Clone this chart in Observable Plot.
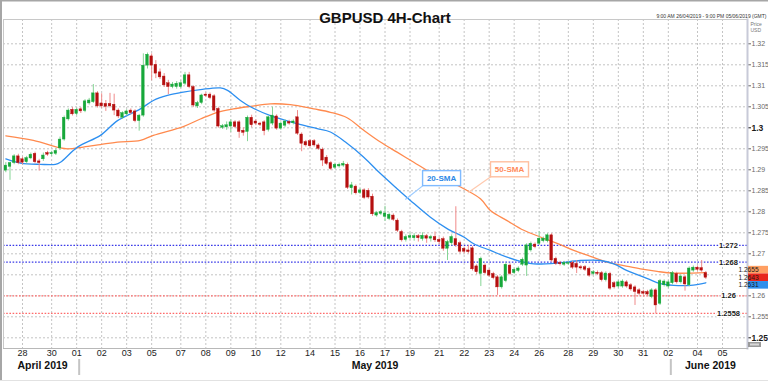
<!DOCTYPE html>
<html><head><meta charset="utf-8">
<script src="https://cdn.jsdelivr.net/npm/d3@7"></script>
<script src="https://cdn.jsdelivr.net/npm/@observablehq/plot@0.6"></script>
<style>
html,body{margin:0;padding:0;background:#fff;}
#wrap{position:relative;width:768px;height:382px;overflow:hidden;}
</style></head>
<body><div id="wrap"></div>
<script>
// ---- Data (GBPUSD 4H candles) ----
const opens = [1.2898,1.2907,1.2916,1.2932,1.2925,1.2918,1.2927,1.2938,1.2920,1.2925,1.2940,1.2937,1.2938,1.2951,1.2972,1.3020,1.3043,1.3033,1.3044,1.3040,1.3058,1.3061,1.3082,1.3058,1.3057,1.3057,1.3055,1.3041,1.3024,1.3032,1.3041,1.3039,1.3016,1.3029,1.3148,1.3170,1.3150,1.3132,1.3122,1.3106,1.3097,1.3097,1.3097,1.3105,1.3125,1.3097,1.3051,1.3059,1.3079,1.3079,1.3075,1.3045,1.3000,1.3001,1.3003,1.3013,1.3013,1.2993,1.2990,1.3024,1.3015,1.3010,1.3013,1.2995,1.3010,1.3027,1.2998,1.3005,1.3014,1.3011,1.3025,1.2984,1.2966,1.2968,1.2968,1.2958,1.2948,1.2929,1.2916,1.2905,1.2908,1.2910,1.2912,1.2856,1.2860,1.2845,1.2851,1.2850,1.2836,1.2791,1.2795,1.2788,1.2783,1.2791,1.2779,1.2752,1.2733,1.2738,1.2737,1.2742,1.2735,1.2742,1.2736,1.2740,1.2733,1.2735,1.2712,1.2725,1.2735,1.2725,1.2712,1.2708,1.2713,1.2670,1.2652,1.2672,1.2660,1.2652,1.2644,1.2620,1.2635,1.2672,1.2654,1.2659,1.2674,1.2672,1.2708,1.2722,1.2724,1.2730,1.2730,1.2744,1.2688,1.2678,1.2674,1.2676,1.2678,1.2676,1.2668,1.2668,1.2664,1.2652,1.2655,1.2654,1.2637,1.2652,1.2630,1.2622,1.2622,1.2632,1.2625,1.2620,1.2613,1.2609,1.2609,1.2597,1.2613,1.2581,1.2625,1.2622,1.2630,1.2652,1.2632,1.2644,1.2625,1.2660,1.2667,1.2666,1.2654];
const highs = [1.2917,1.2918,1.2936,1.2937,1.2930,1.2932,1.2940,1.2942,1.2925,1.2940,1.2944,1.2944,1.2950,1.2978,1.3028,1.3045,1.3048,1.3047,1.3048,1.3067,1.3070,1.3103,1.3086,1.3081,1.3065,1.3082,1.3080,1.3045,1.3038,1.3043,1.3045,1.3043,1.3032,1.3176,1.3178,1.3176,1.3160,1.3140,1.3129,1.3113,1.3108,1.3110,1.3112,1.3132,1.3132,1.3100,1.3063,1.3080,1.3083,1.3083,1.3079,1.3049,1.3008,1.3014,1.3019,1.3017,1.3017,1.3000,1.3028,1.3030,1.3019,1.3013,1.3017,1.3028,1.3049,1.3031,1.3014,1.3019,1.3018,1.3019,1.3041,1.2988,1.2970,1.2972,1.2972,1.2962,1.2952,1.2934,1.2920,1.2916,1.2916,1.2920,1.2916,1.2870,1.2864,1.2855,1.2855,1.2855,1.2842,1.2801,1.2803,1.2813,1.2797,1.2795,1.2783,1.2756,1.2745,1.2749,1.2748,1.2746,1.2750,1.2746,1.2744,1.2752,1.2738,1.2740,1.2732,1.2745,1.2812,1.2730,1.2716,1.2720,1.2717,1.2674,1.2692,1.2676,1.2664,1.2656,1.2648,1.2648,1.2678,1.2676,1.2666,1.2669,1.2690,1.2724,1.2728,1.2726,1.2753,1.2740,1.2748,1.2748,1.2692,1.2682,1.2682,1.2681,1.2682,1.2684,1.2672,1.2672,1.2668,1.2660,1.2659,1.2658,1.2657,1.2656,1.2634,1.2636,1.2638,1.2636,1.2629,1.2624,1.2617,1.2613,1.2613,1.2617,1.2617,1.2639,1.2638,1.2636,1.2658,1.2656,1.2650,1.2648,1.2669,1.2671,1.2671,1.2684,1.2658];
const lows = [1.2893,1.2875,1.2912,1.2912,1.2912,1.2914,1.2924,1.2914,1.2897,1.2920,1.2932,1.2932,1.2934,1.2946,1.2968,1.3016,1.3028,1.3029,1.3034,1.3036,1.3054,1.3058,1.3047,1.3046,1.3039,1.3047,1.3029,1.3022,1.3020,1.3028,1.3031,1.3012,1.2992,1.3025,1.3140,1.3112,1.3117,1.3115,1.3096,1.3079,1.3093,1.3092,1.3093,1.3101,1.3093,1.3048,1.3046,1.3055,1.3072,1.3067,1.3037,1.2999,1.2996,1.2994,1.2989,1.2998,1.2975,1.2980,1.2967,1.3000,1.3005,1.3003,1.2981,1.2990,1.3005,1.2994,1.2994,1.3000,1.3006,1.3007,1.2982,1.2943,1.2954,1.2952,1.2954,1.2946,1.2908,1.2910,1.2898,1.2901,1.2904,1.2906,1.2853,1.2840,1.2840,1.2841,1.2829,1.2830,1.2789,1.2787,1.2791,1.2777,1.2779,1.2777,1.2751,1.2728,1.2728,1.2733,1.2730,1.2728,1.2730,1.2725,1.2728,1.2727,1.2722,1.2706,1.2684,1.2719,1.2715,1.2700,1.2700,1.2700,1.2659,1.2650,1.2622,1.2650,1.2644,1.2638,1.2601,1.2616,1.2631,1.2648,1.2650,1.2655,1.2670,1.2646,1.2704,1.2712,1.2720,1.2726,1.2726,1.2680,1.2672,1.2671,1.2670,1.2672,1.2663,1.2653,1.2661,1.2658,1.2644,1.2648,1.2648,1.2633,1.2633,1.2613,1.2616,1.2618,1.2618,1.2618,1.2611,1.2577,1.2601,1.2601,1.2599,1.2593,1.2557,1.2577,1.2621,1.2618,1.2626,1.2628,1.2628,1.2611,1.2621,1.2656,1.2658,1.2656,1.2639];
const closes = [1.2910,1.2916,1.2932,1.2916,1.2917,1.2928,1.2936,1.2918,1.2916,1.2934,1.2936,1.2940,1.2945,1.2972,1.3024,1.3041,1.3032,1.3043,1.3039,1.3063,1.3065,1.3082,1.3051,1.3051,1.3050,1.3051,1.3041,1.3027,1.3035,1.3039,1.3035,1.3016,1.3029,1.3148,1.3174,1.3148,1.3129,1.3120,1.3101,1.3097,1.3103,1.3105,1.3106,1.3125,1.3097,1.3053,1.3059,1.3077,1.3076,1.3071,1.3041,1.3003,1.3004,1.3006,1.3013,1.3002,1.2990,1.2988,1.3024,1.3006,1.3010,1.3007,1.2992,1.3025,1.3029,1.2998,1.3010,1.3015,1.3010,1.3015,1.2986,1.2962,1.2958,1.2956,1.2958,1.2950,1.2922,1.2914,1.2902,1.2912,1.2912,1.2914,1.2857,1.2863,1.2844,1.2851,1.2833,1.2834,1.2794,1.2797,1.2799,1.2796,1.2793,1.2781,1.2755,1.2732,1.2740,1.2742,1.2742,1.2737,1.2743,1.2736,1.2740,1.2732,1.2728,1.2712,1.2728,1.2740,1.2720,1.2705,1.2705,1.2704,1.2663,1.2656,1.2688,1.2654,1.2648,1.2642,1.2620,1.2644,1.2674,1.2652,1.2662,1.2665,1.2686,1.2720,1.2724,1.2716,1.2736,1.2736,1.2744,1.2684,1.2676,1.2675,1.2678,1.2678,1.2667,1.2667,1.2665,1.2662,1.2648,1.2656,1.2652,1.2637,1.2653,1.2617,1.2620,1.2632,1.2634,1.2622,1.2615,1.2609,1.2605,1.2605,1.2603,1.2613,1.2577,1.2635,1.2634,1.2632,1.2654,1.2632,1.2646,1.2627,1.2665,1.2667,1.2662,1.2660,1.2643];

// moving averages (candle index, price)
const sma20Idx = [0,3.5,8.3,11.9,13.1,17.2,22.7,26.8,32.3,35.4,38.8,42.6,46.7,51.5,53.2,56.3,58.7,63.5,69.9,74.7,77.9,81.5,85.9,89.9,93.9,97.1,101.9,105.9,109.9,112.3,116.3,120.3,124.3,126.7,132.3,137.9,142.7,145.9,149.1,154,157.1,160.3,164.3,168];
const sma20Val = [1.2926,1.2916,1.2913,1.2913,1.2918,1.2954,1.2982,1.3017,1.3045,1.3065,1.3077,1.3085,1.3091,1.3095,1.3089,1.3065,1.3050,1.3029,1.3010,1.2998,1.2990,1.2966,1.2930,1.2891,1.2855,1.2827,1.2787,1.2760,1.2740,1.2724,1.2708,1.2692,1.2680,1.2676,1.2678,1.2684,1.2684,1.2676,1.2660,1.2641,1.2629,1.2625,1.2625,1.2631];
const sma50Idx = [0,6.6,13.1,14.8,18.6,22.7,26.8,32.3,35.4,42.6,46.7,50.8,54.6,58.7,63.5,68.3,73.9,77.9,81.9,85.9,89.9,93.9,97.9,101.9,109.9,113.9,116.3,120.3,124.3,128.3,132.3,136.3,140.3,144.3,148.3,152.3,156.3,160.3,168];
const sma50Val = [1.2981,1.2970,1.2952,1.2950,1.2954,1.2960,1.2966,1.2970,1.2982,1.3003,1.3021,1.3037,1.3045,1.3051,1.3057,1.3055,1.3045,1.3037,1.3024,1.2994,1.2966,1.2942,1.2918,1.2894,1.2855,1.2831,1.2803,1.2779,1.2756,1.2740,1.2725,1.2708,1.2694,1.2680,1.2672,1.2664,1.2658,1.2654,1.2655];

// x axis: day ticks (candle index of the day's first bar) and labels
const dayTickIndex = [4,11,17,23,29,35,42,48,54,60,66,73,79,85,91,97,104,110,116,122,128,135,141,147,153,159,166,172];
const dayTickLabels = ["28","30","01","02","03","05","07","08","09","10","12","14","15","16","17","19","21","22","23","24","26","28","29","30","31","02","04","05"];
const monthLabels = ["April 2019","May 2019","June 2019"];
const monthStartIndex = [17,159];

// y axis ticks (1.265 sits under the price tags, so its label is not shown)
const yTickValues = [1.25,1.255,1.26,1.265,1.27,1.275,1.28,1.285,1.29,1.295,1.3,1.305,1.31,1.315,1.32];
const yBoldTicks = [1.25,1.3];
const yHiddenLabels = [1.265];

// horizontal levels
const levelValues = [1.272,1.268,1.26,1.2558];
const levelKinds = ["resistance","resistance","support","support"];

// annotations
const annLabels = ["20-SMA","50-SMA"];
const annAnchorIdx = [96,111.1];
const annAnchorVal = [1.2828,1.2845];
const annBoxIdx = [104.7,121.0];
const annBoxVal = [1.2879,1.2900];

// ---- build ----
const FONT = '"Liberation Sans", Arial, sans-serif';
const candles = opens.map((o,i)=>({i, o, h:highs[i], l:lows[i], c:closes[i]}));
const up = candles.filter(d=>d.c>=d.o), down = candles.filter(d=>d.c<d.o);
const sma20 = sma20Idx.map((x,k)=>({x, y:sma20Val[k]}));
const sma50 = sma50Idx.map((x,k)=>({x, y:sma50Val[k]}));
const labelOf = new Map(dayTickIndex.map((d,i)=>[d, dayTickLabels[i]]));
const xDomain = [-0.56, 178];
const spans = [xDomain[0], ...monthStartIndex, xDomain[1]];
const months = monthLabels.map((t,k)=>({t, mid:(spans[k]+spans[k+1])/2}));
const resist = levelValues.filter((v,i)=>levelKinds[i]==="resistance");
const support = levelValues.filter((v,i)=>levelKinds[i]==="support");
const regularTicks = yTickValues.filter(t=>!yBoldTicks.includes(t) && !yHiddenLabels.includes(t));
const HW = 0.32;

const plot = Plot.plot({
  width:768, height:382,
  marginTop:19, marginBottom:34, marginLeft:3, marginRight:21,
  style:{fontFamily:FONT, background:"transparent", overflow:"visible"},
  x:{domain:xDomain, axis:null},
  y:{domain:[1.247452,1.325786], axis:null},
  marks:[
    Plot.gridY(yTickValues, {stroke:"#c4c4c4", strokeOpacity:1, strokeDasharray:"2,2"}),
    Plot.gridX(dayTickIndex, {stroke:"#c4c4c4", strokeOpacity:1, strokeDasharray:"2,2"}),
    Plot.ruleY(resist, {stroke:"#3a3ae8", strokeWidth:1.3, strokeDasharray:"1.6,1.6"}),
    Plot.ruleY(support, {stroke:"#ff6a6a", strokeWidth:1.3, strokeDasharray:"1.6,1.6"}),
    Plot.line(sma50, {x:"x", y:"y", stroke:"#ff8a4e", strokeWidth:1.3, curve:"catmull-rom"}),
    Plot.line(sma20, {x:"x", y:"y", stroke:"#2d8ff0", strokeWidth:1.3, curve:"catmull-rom"}),
    Plot.ruleX(up, {x:"i", y1:"l", y2:"h", stroke:"#86d596", strokeWidth:1}),
    Plot.ruleX(down, {x:"i", y1:"l", y2:"h", stroke:"#f08a8a", strokeWidth:1}),
    Plot.rect(up, {x1:d=>d.i-HW, x2:d=>d.i+HW, y1:"o", y2:"c", fill:"#17a83a", stroke:"#17a83a", strokeWidth:0.4}),
    Plot.rect(down, {x1:d=>d.i-HW, x2:d=>d.i+HW, y1:"o", y2:"c", fill:"#b50f0f", stroke:"#b50f0f", strokeWidth:0.4}),
    Plot.text(levelValues, {y:d=>d, text:d=>String(d), frameAnchor:"right", textAnchor:"middle", dx:-19, fontSize:7.5, fontWeight:"bold", fill:"#1a1a1a", stroke:"white", strokeWidth:2.5}),
    Plot.axisX(dayTickIndex, {anchor:"bottom", tickSize:0, tickPadding:1.5, fontSize:9, color:"#222", tickFormat:d=>labelOf.get(d), label:null}),
    Plot.axisY(regularTicks, {anchor:"right", tickSize:3, tickPadding:1, fontSize:7, color:"#6a6a6a", tickFormat:d=>String(d), label:null}),
    Plot.axisY(yBoldTicks, {anchor:"right", tickSize:3, tickPadding:1, fontSize:8.5, fontWeight:"bold", color:"#1a1a1a", tickFormat:d=>String(d), label:null}),
    Plot.frame({stroke:"#c8c8c8"}),
    Plot.frame({anchor:"right", stroke:"#c8cad8", strokeWidth:2}),
    Plot.frame({anchor:"bottom", stroke:"#b8b8b8"}),
    Plot.text(months, {x:"mid", text:"t", frameAnchor:"bottom", dy:20, dx:2.5, fontSize:10.5, fontWeight:"bold", fill:"#111"}),
    Plot.ruleX(monthStartIndex, {x:d=>d, dx:2.5, stroke:"#c4c4c4", strokeWidth:2, insetTop:340, insetBottom:-27}),
    Plot.text(["GBPUSD 4H-Chart"], {frameAnchor:"top", dy:-7, dx:9.5, fontSize:15, fontWeight:"bold", fill:"#111"}),
    Plot.text(["9:00 AM 26/04/2019 - 9:00 PM 05/06/2019 (GMT)"], {frameAnchor:"top-right", textAnchor:"end", dx:19, dy:-5, fontSize:5, fill:"#333"}),
    Plot.text(["Price\nUSD"], {frameAnchor:"top-right", textAnchor:"start", lineAnchor:"top", dx:3, dy:2, fontSize:5, lineHeight:1.25, fill:"#777"})
  ]
});
document.getElementById("wrap").append(plot);

// ---- post-processing with the plot's own scales ----
const sx = plot.scale("x"), sy = plot.scale("y");
const svg = d3.select(plot);

// annotations: connector + boxed label
const annStyles = [
  {line:"#9ccbff", border:"#7fbaff", text:"#2a87e6"},
  {line:"#ffc9ae", border:"#ffbf9f", text:"#ff8a5a"}
];
const BW = 38, BH = 15;
annLabels.forEach((t,k)=>{
  const st = annStyles[k];
  const ax = sx.apply(annAnchorIdx[k]), ay = sy.apply(annAnchorVal[k]);
  const cx = sx.apply(annBoxIdx[k]), cy = sy.apply(annBoxVal[k]);
  const g = svg.append("g");
  g.append("line").attr("x1",ax).attr("y1",ay).attr("x2",cx-BW/2+1).attr("y2",cy+BH/2-0.5)
    .attr("stroke",st.line).attr("stroke-width",1.2);
  g.append("rect").attr("x",cx-BW/2).attr("y",cy-BH/2).attr("width",BW).attr("height",BH)
    .attr("fill","white").attr("stroke",st.border).attr("stroke-width",1.4);
  g.append("text").attr("x",cx).attr("y",cy).attr("dy","0.35em").attr("text-anchor","middle")
    .attr("font-family",FONT).attr("font-size",8).attr("font-weight","bold").attr("fill",st.text).text(t);
});

// price tags on the right axis
const last = candles.length-1;
const tags = [
  {v:sma50Val[sma50Val.length-1], bg:"#ff9f62"},
  {v:closes[last], bg:"#e8261c"},
  {v:sma20Val[sma20Val.length-1], bg:"#2f8fec"}
].map(d=>({...d, raw:sy.apply(d.v)})).sort((a,b)=>a.raw-b.raw);
const TH = 7.6;
tags.forEach((d,k)=>{ d.py = k===0 ? d.raw : Math.max(d.raw, tags[k-1].py+TH); });
const shift = d3.mean(tags,d=>d.raw) - d3.mean(tags,d=>d.py);
tags.forEach(d=>{ d.py += shift; });
const xr = 747;
tags.forEach(d=>{
  svg.append("rect").attr("x",xr+1).attr("y",d.py-TH/2).attr("width",768-xr-1).attr("height",TH).attr("fill",d.bg);
  svg.append("text").attr("x",xr+1.5).attr("y",d.py).attr("dy","0.35em").attr("font-family",FONT)
    .attr("font-size",6.6).attr("fill","#1a1a1a").text(d.v.toFixed(4));
});

// small control box bottom right and outer borders
svg.append("rect").attr("x",xr+1).attr("y",342).attr("width",13).attr("height",5).attr("fill","#9a9a9a");
svg.append("rect").attr("x",xr+3).attr("y",343.5).attr("width",9).attr("height",2).attr("fill","#d8d8d8");
svg.append("rect").attr("x",0).attr("y",0).attr("width",768).attr("height",1.5).attr("fill","#a6a6a6");
svg.append("rect").attr("x",0).attr("y",0).attr("width",2).attr("height",380).attr("fill","#a6a6a6");
svg.append("rect").attr("x",0).attr("y",380).attr("width",768).attr("height",1).attr("fill","#e2e2e2");
</script>
</body></html>
